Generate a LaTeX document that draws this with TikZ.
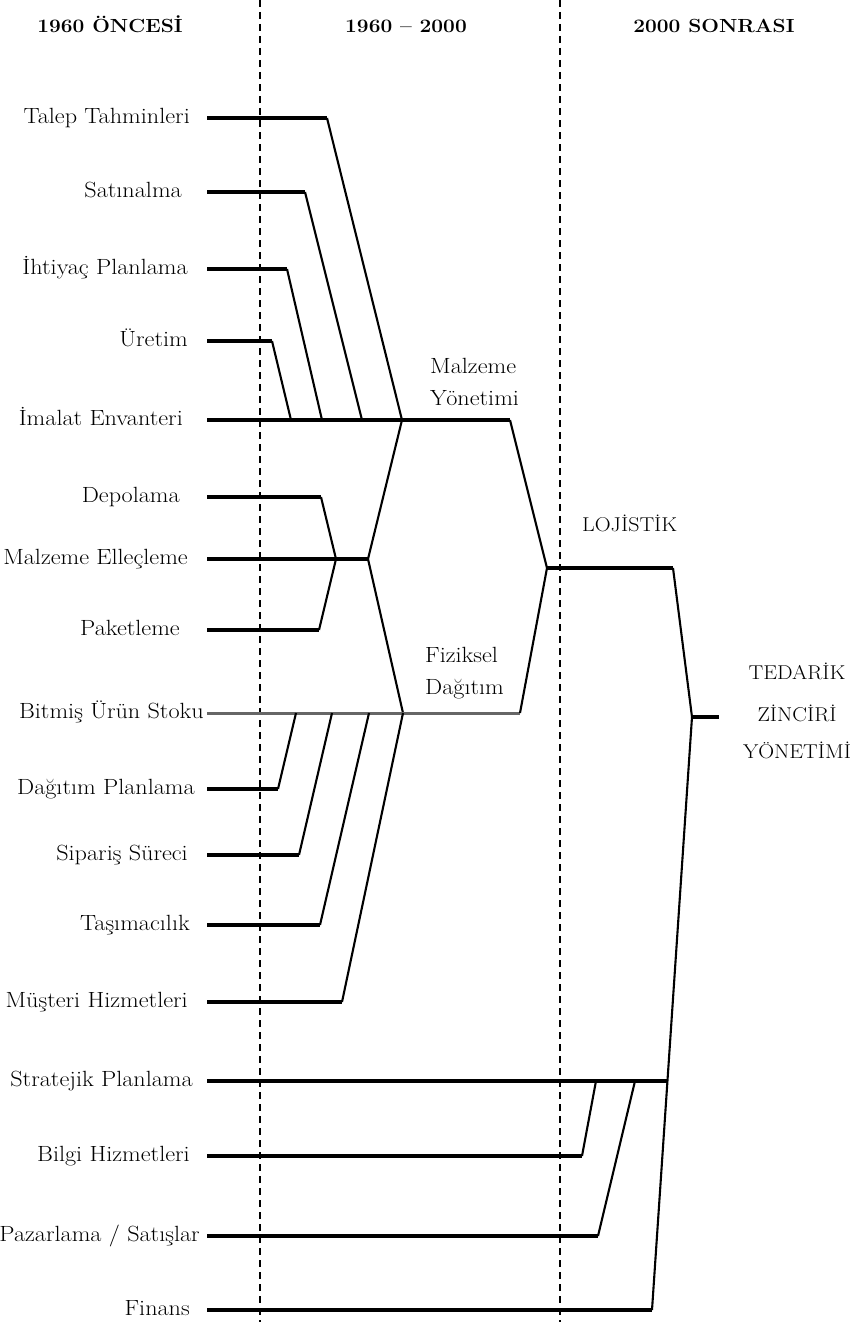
\documentclass[tikz,border=0pt]{standalone}
\usepackage{fontspec}
\setmainfont{Latin Modern Roman}[FakeStretch=1.1]
\begin{document}
\begin{tikzpicture}[x=1pt,y=-1pt,
  bar/.style={line width=3.4pt},
  greybar/.style={line width=3pt,black!60},
  link/.style={line width=2.1pt},
  era/.style={line width=1.5pt,dash pattern=on 7pt off 5pt},
  lbl/.style={anchor=base east,inner sep=0pt,font=\fontsize{22}{26}\selectfont},
  grp/.style={anchor=base west,inner sep=0pt,font=\fontsize{22}{26}\selectfont},
  captext/.style={anchor=base,inner sep=0pt,font=\fontsize{20}{24}\selectfont},
  hdr/.style={anchor=base,inner sep=0pt,font=\fontsize{19}{23}\selectfont\bfseries}]
\useasboundingbox (0,0) rectangle (859,1322);

% period separators
\coordinate (d1t) at (260,0);    \coordinate (d1b) at (260,1322);
\coordinate (d2t) at (560,0);    \coordinate (d2b) at (560,1322);
\draw[era] (d1t) -- (d1b);
\draw[era] (d2t) -- (d2b);

% period headings
\node[hdr] (h1) at (110,33) {1960 ÖNCESİ};
\node[hdr] (h2) at (406,33) {1960 – 2000};
\node[hdr] (h3) at (714,33) {2000 SONRASI};

% activity labels
\node[lbl] (talep)  at (190,123.5)  {Talep Tahminleri};
\node[lbl] (satin)  at (182,197.5)  {Satınalma};
\node[lbl] (ihti)   at (188,274.5)  {İhtiyaç Planlama};
\node[lbl] (uret)   at (188,346.5)  {Üretim};
\node[lbl] (imal)   at (183,425.5)  {İmalat Envanteri};
\node[lbl] (depo)   at (180,502.5)  {Depolama};
\node[lbl] (ellec)  at (188,564.5)  {Malzeme Elleçleme};
\node[lbl] (paket)  at (180,635.5)  {Paketleme};
\node[lbl] (bitmis) at (204,718.5)  {Bitmiş Ürün Stoku};
\node[lbl] (dagp)   at (195,794.5)  {Dağıtım Planlama};
\node[lbl] (sipar)  at (188,860.5)  {Sipariş Süreci};
\node[lbl] (tasim)  at (190,930.5)  {Taşımacılık};
\node[lbl] (muster) at (188,1007.5) {Müşteri Hizmetleri};
\node[lbl] (strat)  at (193,1086.5) {Stratejik Planlama};
\node[lbl] (bilgi)  at (190,1161.5) {Bilgi Hizmetleri};
\node[lbl] (pazar)  at (200,1241.5) {Pazarlama / Satışlar};
\node[lbl] (finans) at (190,1315.5) {Finans};

% group labels
\node[grp] (mz1) at (430,373) {Malzeme};
\node[grp] (mz2) at (430,405) {Yönetimi};
\node[grp] (fz1) at (425,662) {Fiziksel};
\node[grp] (fz2) at (425,694) {Dağıtım};
\node[captext,anchor=base west] (loj) at (582,531) {LOJİSTİK};
\node[captext] (tz1) at (797,679) {TEDARİK};
\node[captext] (tz2) at (797,721) {ZİNCİRİ};
\node[captext] (tz3) at (797,758) {YÖNETİMİ};

% junction points
\coordinate (M) at (402,420);   % materials management
\coordinate (E) at (368,559);   % handling hub
\coordinate (P) at (336,559);
\coordinate (F) at (403,713);   % physical distribution
\coordinate (L) at (547,568);   % logistics
\coordinate (T) at (692,717);   % supply chain management
\coordinate (Tend) at (719,717);
\coordinate (B) at (652,1310);
\coordinate (S) at (667,1081);

% line starts next to each label
\foreach \n/\y in {talep/118,satin/192,ihti/269,uret/341,imal/420,depo/497,ellec/559,paket/630,bitmis/713,dagp/789,sipar/855,tasim/925,muster/1002,strat/1081,bilgi/1156,pazar/1236,finans/1310}
  \coordinate (\n-s) at (207,\y);

% materials management branch
\draw[bar] (talep-s) -- (327,118);  \draw[link] (327,118) -- (M);
\draw[bar] (satin-s) -- (305,192);  \draw[link] (305,192) -- (362,420);
\draw[bar] (ihti-s) -- (287,269);   \draw[link] (287,269) -- (322,420);
\draw[bar] (uret-s) -- (272,341);   \draw[link] (272,341) -- (291,420);
\draw[bar] (imal-s) -- (510,420);   \draw[link] (510,420) -- (L);

% handling hub
\draw[bar] (depo-s) -- (321,497);   \draw[link] (321,497) -- (P);
\draw[bar] (ellec-s) -- (E);
\draw[bar] (paket-s) -- (319,630);  \draw[link] (319,630) -- (P);
\draw[link] (M) -- (E) -- (F);

% physical distribution branch
\draw[greybar] (bitmis-s) -- (520,713); \draw[link] (520,713) -- (L);
\draw[bar] (dagp-s) -- (278,789);   \draw[link] (278,789) -- (296,713);
\draw[bar] (sipar-s) -- (299,855);  \draw[link] (299,855) -- (332,713);
\draw[bar] (tasim-s) -- (320,925);  \draw[link] (320,925) -- (369,713);
\draw[bar] (muster-s) -- (342,1002); \draw[link] (342,1002) -- (F);

% logistics
\draw[bar] (L) -- (673,568);  \draw[link] (673,568) -- (T);
\draw[bar] (T) -- (Tend);

% supply chain trunk
\draw[link] (T) -- (B);
\draw[bar] (strat-s) -- (S);
\draw[bar] (bilgi-s) -- (582,1156);  \draw[link] (582,1156) -- (596,1081);
\draw[bar] (pazar-s) -- (598,1236);  \draw[link] (598,1236) -- (635,1081);
\draw[bar] (finans-s) -- (B);
\end{tikzpicture}
\end{document}
